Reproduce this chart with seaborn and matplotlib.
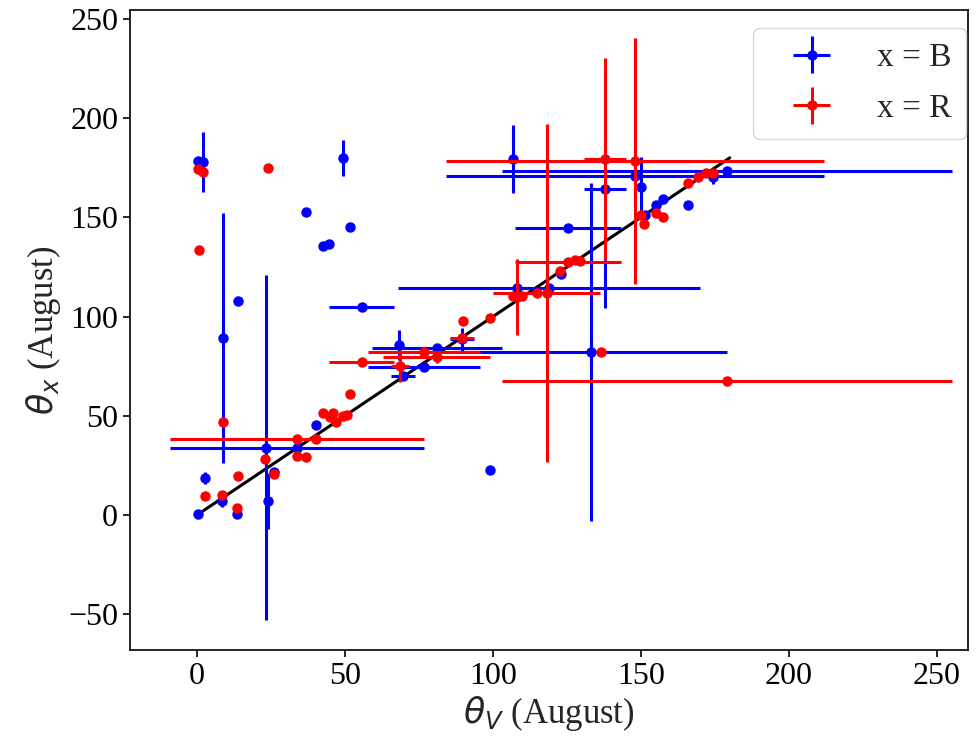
import numpy as np
import pandas as pd
import matplotlib
matplotlib.use("Agg")
import matplotlib.pyplot as plt
from matplotlib.legend_handler import HandlerErrorbar
from matplotlib.container import ErrorbarContainer
import seaborn as sns

# ---- data: x = B (blue) ----
b_x    = [0.3, 0.5, 2.0, 2.7, 8.4, 8.8, 13.5, 13.9, 23.3, 24.0, 26.0, 33.8, 36.8, 40.2,
          42.6, 44.6, 49.3, 51.7, 55.7, 68.2, 69.6, 76.7, 81.0, 89.5, 99.0, 106.8,
          108.0, 119.0, 123.0, 125.3, 133.0, 137.8, 148.0, 150.0, 151.4, 155.0,
          157.4, 165.9, 174.3, 179.0]
b_y    = [0.5, 178.5, 178.0, 18.6, 7.1, 89.0, 0.5, 108.0, 34.0, 7.0, 21.7, 33.8, 152.7, 45.6,
          135.6, 136.6, 180.0, 145.2, 104.8, 85.7, 70.0, 74.6, 84.2, 88.5, 22.7, 179.4,
          114.4, 114.5, 121.5, 144.7, 82.2, 164.3, 171.0, 165.3, 151.2, 156.3,
          159.3, 156.3, 170.4, 173.4]
b_xerr = [0, 0, 0, 0, 0, 0, 0, 0, 0, 0, 0, 43, 0, 0,
          0, 0, 0, 0, 11, 0, 4, 19, 22, 4, 0, 0,
          0, 51, 0, 18, 46, 7, 64, 0, 0, 0,
          0, 0, 0, 76]
b_yerr = [0, 0, 15, 3, 3, 63, 0, 0, 87, 14, 0, 4, 0, 0,
          0, 0, 9, 0, 0, 7.6, 0, 0, 0, 6, 0, 17,
          0, 0, 0, 0, 85, 60, 0, 15, 0, 0,
          0, 0, 3.5, 0]

# ---- data: x = R (red) ----
r_x    = [0.5, 2.0, 0.7, 2.7, 8.4, 8.8, 13.5, 13.9, 23.0, 24.0, 26.0, 33.8, 33.8, 36.8,
          40.2, 42.6, 44.9, 45.9, 47.0, 49.3, 50.7, 51.7, 55.7, 68.6, 76.7, 81.0,
          89.5, 89.9, 99.0, 106.8, 108.0, 109.8, 114.9, 118.2, 122.6, 125.3, 127.7,
          129.4, 136.5, 137.8, 148.0, 150.0, 151.0, 155.0, 157.4, 165.9, 169.3,
          172.0, 174.3, 179.0]
r_y    = [174.4, 172.9, 133.6, 9.6, 10.1, 46.9, 3.5, 19.7, 28.2, 175.0, 20.7, 38.3, 29.7, 29.2,
          38.3, 51.4, 49.4, 51.4, 46.9, 50.0, 50.4, 61.0, 77.1, 75.1, 82.0, 79.6,
          89.2, 97.8, 99.3, 110.4, 109.9, 110.4, 111.9, 111.9, 123.0, 127.5, 128.5,
          128.0, 82.2, 179.4, 178.4, 151.2, 146.7, 152.2, 150.2, 167.3, 170.4,
          172.4, 172.4, 67.5]
r_xerr = [0, 0, 0, 0, 0, 0, 0, 0, 0, 0, 0, 43, 0, 0,
          0, 0, 0, 0, 0, 0, 0, 0, 11, 3, 19, 18,
          4, 0, 0, 0, 0, 0, 0, 18, 0, 18, 0,
          0, 0, 7, 64, 0, 0, 0, 0, 0, 0,
          0, 0, 76]
r_yerr = [0, 0, 0, 0, 0, 0, 0, 0, 0, 0, 0, 0, 0, 0,
          0, 0, 0, 0, 0, 0, 0, 0, 0, 8, 0, 3,
          0, 0, 0, 0, 19, 0, 0, 85, 0, 0, 0,
          0, 0, 51, 62, 0, 0, 0, 0, 0, 0,
          0, 0, 0]

line_x = [0, 180]
line_y = [0, 180]

labels = ["x = B", "x = R"]

sns.set_style("ticks")
plt.rcParams["font.family"] = ["Liberation Serif", "DejaVu Serif"]
plt.rcParams["mathtext.fontset"] = "dejavusans"
plt.rcParams["axes.edgecolor"] = "black"
plt.rcParams["axes.linewidth"] = 1.2
plt.rcParams["xtick.color"] = "black"
plt.rcParams["ytick.color"] = "black"

fig = plt.figure(figsize=(9.79, 7.43), dpi=100)
ax = fig.add_axes([130/979, 1-650/743, (968-130)/979, (650-10)/743])

df_line = pd.DataFrame({"x": line_x, "y": line_y})
sns.lineplot(data=df_line, x="x", y="y", color="black", linewidth=2.2, ax=ax, zorder=2)

dfb = pd.DataFrame({"x": b_x, "y": b_y, "xerr": b_xerr, "yerr": b_yerr})
dfr = pd.DataFrame({"x": r_x, "y": r_y, "xerr": r_xerr, "yerr": r_yerr})

ax.errorbar(dfb["x"], dfb["y"], xerr=dfb["xerr"], yerr=dfb["yerr"], fmt="o",
            color="blue", ms=6.5, elinewidth=2.2, capsize=0, label=labels[0], zorder=3)
ax.errorbar(dfr["x"], dfr["y"], xerr=dfr["xerr"], yerr=dfr["yerr"], fmt="o",
            color="red", ms=6.5, elinewidth=2.2, capsize=0, label=labels[1], zorder=4)

ax.set_xlim(-22.6, 260.5)
ax.set_ylim(-68, 254.5)
ax.set_xticks([0, 50, 100, 150, 200, 250])
ax.set_yticks([-50, 0, 50, 100, 150, 200, 250])
ax.tick_params(axis="both", labelsize=23, length=5, width=1.2, direction="out")
for s in ax.spines.values():
    s.set_visible(True)
    s.set_color("black")

ax.set_xlabel(r"$\theta_V$ (August)", fontsize=25, labelpad=2)
ax.set_ylabel(r"$\theta_x$ (August)", fontsize=25, labelpad=4)

leg = ax.legend(loc="upper right", fontsize=24, handlelength=2.6, handletextpad=0.65,
                borderpad=0.45, labelspacing=0.6, borderaxespad=0,
                frameon=True, fancybox=True, framealpha=0.8, edgecolor="#cccccc",
                bbox_to_anchor=(0.998, 0.972),
                handler_map={ErrorbarContainer: HandlerErrorbar(xerr_size=0.55)})

fig.savefig("out.png", dpi=100)
